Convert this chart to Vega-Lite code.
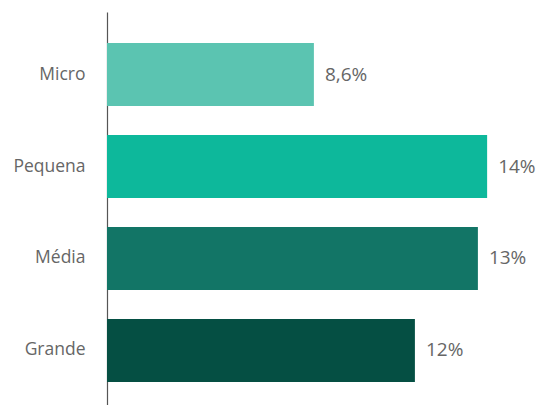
{
  "$schema": "https://vega.github.io/schema/vega-lite/v6.json",
  "autosize": "none",
  "width": 429,
  "height": 401,
  "padding": {"left": 107, "top": 12, "right": 0, "bottom": 0},
  "background": "white",
  "data": {"values": [
    {"porte": "Micro", "valor": 7.62, "rotulo": "8,6%", "cor": "#5BC4B1"},
    {"porte": "Pequena", "valor": 14.0, "rotulo": "14%", "cor": "#0DB89B"},
    {"porte": "Média", "valor": 13.66, "rotulo": "13%", "cor": "#127566"},
    {"porte": "Grande", "valor": 11.34, "rotulo": "12%", "cor": "#054F43"}
  ]},
  "encoding": {
    "y": {"field": "porte", "type": "nominal", "sort": null,
      "scale": {"paddingInner": 0.315, "paddingOuter": 0.337},
      "axis": {"title": null, "ticks": false, "labelFontSize": 17.5, "labelColor": "#666666", "labelFont": "Open Sans", "labelPadding": 22, "domainColor": "#555555", "domainWidth": 1.2}},
    "x": {"field": "valor", "type": "quantitative", "scale": {"domain": [0, 15.8], "nice": false, "zero": true}, "axis": null}
  },
  "layer": [
    {"mark": {"type": "bar"}, "encoding": {"color": {"field": "cor", "type": "nominal", "scale": null, "legend": null}}},
    {"mark": {"type": "text", "align": "left", "baseline": "middle", "dx": 11, "fontSize": 19, "font": "Open Sans", "color": "#666666"}, "encoding": {"text": {"field": "rotulo"}}}
  ],
  "config": {"view": {"stroke": null}}
}
